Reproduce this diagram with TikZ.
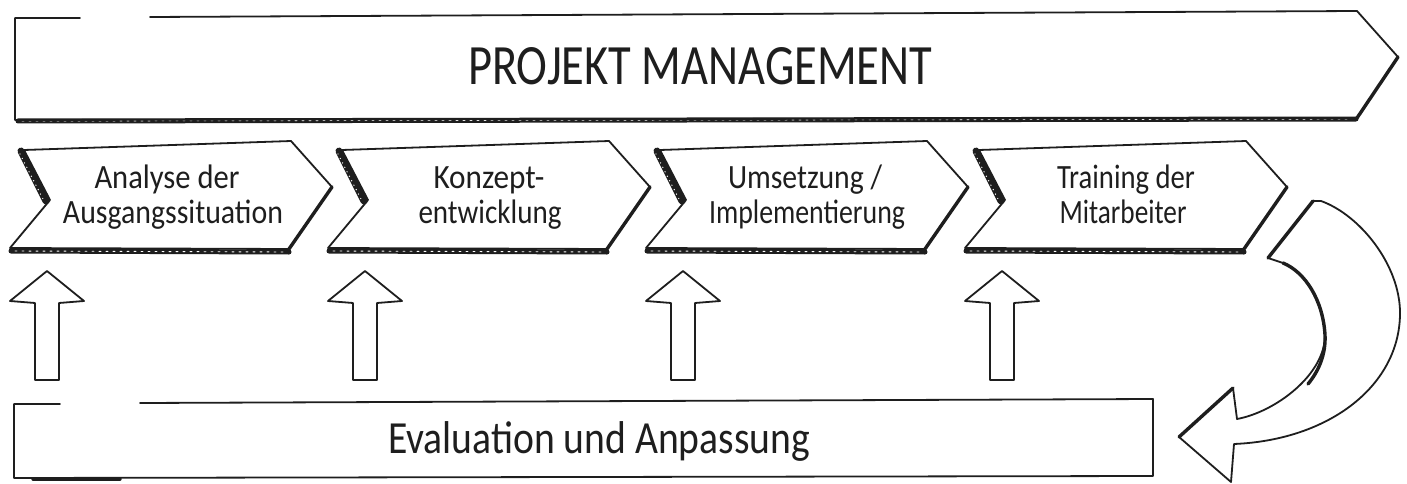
\documentclass[tikz,border=0pt]{standalone}
\usepackage{fontspec}
\setmainfont{Carlito}
\usepackage{graphicx}
\newcommand\fitw[3]{\resizebox{#1pt}{\height}{\fontsize{#2pt}{#2pt}\selectfont #3}}
\definecolor{ink}{HTML}{1E1E1E}
\begin{document}
\begin{tikzpicture}[x=1pt,y=-1pt,line join=round,line cap=round,
  edge/.style={draw=ink,line width=1.8pt},
  heavy/.style={draw=ink,line width=3.4pt},
  shadowband/.style={draw=ink,line width=5pt},
  texture/.style={draw=white,line width=0.9pt,dash pattern=on 2pt off 5pt},
  dots/.style={draw=white,line width=1.4pt,dash pattern=on 0pt off 5pt},
  lbl/.style={inner sep=0pt,anchor=base,text=ink}]
\useasboundingbox (0,0) rectangle (1407,484);

% ---------- top banner ----------
\fill[white] (15,18) -- (1357,11) -- (1398,57) -- (1357,118) -- (15,120) -- cycle;
\draw[shadowband] (18,121) -- (1356,119);
\draw[texture] (22,121) -- (1350,119);
\draw[edge] (80,18) -- (15,18) -- (15,120) -- (1357,118) -- (1398,57) -- (1357,11) -- (150,17);
\draw[heavy] (1398,57) -- (1357,118);
\draw[line width=2.6pt,draw=ink] (15,20) -- (15,118);
\node[lbl] (pm) at (700,85) {\fitw{464}{57}{PROJEKT MANAGEMENT}};

% ---------- chevrons and up arrows ----------
\foreach \x in {10,328,646,965}{
  \fill[white] (\x,248) -- (\x+14,150) -- (\x+281,141) -- (\x+322,187) -- (\x+279,249) -- cycle;
  \fill[white] (\x,248) -- (\x+14,150) -- (\x+40,200) -- cycle;
  \draw[shadowband] (\x+1,251) -- (\x+279,252);
  \draw[texture] (\x+5,251) -- (\x+275,252);
  \draw[line width=7pt,draw=ink] (\x+11,151) -- (\x+36,201);
  \draw[dots] (\x+10,154) -- (\x+34,201);
  \draw[edge] (\x+40,200) -- (\x,248) -- (\x+279,249) -- (\x+322,187) -- (\x+281,141) -- (\x+14,150) -- (\x+40,200);
  \draw[heavy] (\x+322,187) -- (\x+279,249);
  % up arrow
  \draw[edge,fill=white] (\x+37,271) -- (\x+74,301) -- (\x+49,303) -- (\x+49,380)
     -- (\x+25,380) -- (\x+25,303) -- (\x,301) -- cycle;
  \draw[line width=2.8pt,draw=ink] (\x+49,304) -- (\x+49,379);
}

\node[lbl] (c1a) at (167,188) {\fitw{145}{34}{Analyse der}};
\node[lbl] (c1b) at (173,223) {\fitw{220}{34}{Ausgangssituation}};
\node[lbl] (c2a) at (489,188) {\fitw{111}{34}{Konzept-}};
\node[lbl] (c2b) at (490,223) {\fitw{143}{34}{entwicklung}};
\node[lbl] (c3a) at (805,188) {\fitw{154}{34}{Umsetzung /}};
\node[lbl] (c3b) at (807,223) {\fitw{196}{34}{Implementierung}};
\node[lbl] (c4a) at (1126,188) {\fitw{138}{34}{Training der}};
\node[lbl] (c4b) at (1123,223) {\fitw{127}{34}{Mitarbeiter}};

% ---------- bottom box ----------
\fill[white] (14,404) -- (1153,399) -- (1153,476) -- (14,478) -- cycle;
\draw[edge] (60,404) -- (14,404) -- (14,478) -- (1153,476) -- (1153,399) -- (140,403);
\draw[line width=3.4pt,draw=ink] (33,479) -- (120,479);
\node[lbl] (ev) at (599,453) {\fitw{422}{46}{Evaluation und Anpassung}};

% ---------- curved return arrow ----------
\draw[edge,fill=white] (1321,201) .. controls (1360,215) and (1400,265) .. (1400,313)
  .. controls (1400,385) and (1330,440) .. (1234,444) -- (1231,482) -- (1179,437)
  -- (1233,388) -- (1237,419) .. controls (1275,412) and (1325,375) .. (1325,335)
  .. controls (1323,300) and (1305,272) .. (1283,263) -- (1268,258) -- (1313,201) -- cycle;
\draw[heavy] (1283,263) .. controls (1305,272) and (1323,300) .. (1325,335)
  .. controls (1326,355) and (1318,372) .. (1308,384);
\draw[heavy] (1268,258) -- (1313,201);
\draw[heavy] (1179,437) -- (1233,388);
\end{tikzpicture}
\end{document}
